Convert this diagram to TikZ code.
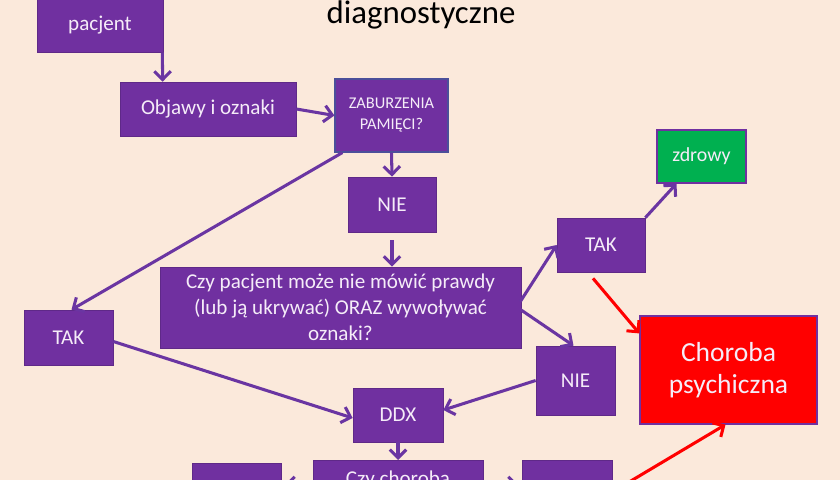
\documentclass[tikz,border=0pt]{standalone}
\usepackage{fontspec}
\setmainfont{Carlito}
\usetikzlibrary{arrows.meta,calc}
\definecolor{bg}{HTML}{FBE9DB}
\definecolor{purp}{HTML}{7030A0}
\definecolor{arrc}{HTML}{6A35A2}
\definecolor{grn}{HTML}{00B050}
\definecolor{txt}{HTML}{F5ECF8}
\definecolor{zabb}{HTML}{4B4F9A}
\begin{document}
\begin{tikzpicture}[x=0.03cm,y=-0.03cm,
  box/.style={fill=purp, draw=purp!85!black, line width=0.6pt, text=txt,
    font=\fontsize{18}{22}\selectfont, align=center, inner sep=0pt},
  parr/.style={draw=arrc, line width=2.6pt, -{Straight Barb[length=7pt,width=14pt]}},
  rarr/.style={draw=red, line width=2.6pt, -{Straight Barb[length=7pt,width=14pt]}}]
\useasboundingbox (0,0) rectangle (840,480);
\fill[bg] (0,0) rectangle (840,480);
\begin{scope}
\clip (0,0) rectangle (840,480);
\node[anchor=base, font=\fontsize{28}{32}\selectfont] (title) at (421,24) {diagnostyczne};
\node[box, minimum width=3.78cm, minimum height=1.62cm] (pacjent) at (100,25) {pacjent};
\node[box, minimum width=5.28cm, minimum height=1.62cm] (objawy) at (208,109) {Objawy i oznaki};
\node[box, draw=zabb, line width=1pt, minimum width=3.39cm, minimum height=2.19cm,
  font=\fontsize{14}{18}\selectfont] (zab) at (391.5,115.5) {ZABURZENIA\\PAMIĘCI?};
\node[box, minimum width=2.64cm, minimum height=1.65cm] (nie1) at (392,204.5) {NIE};
\node[box, minimum width=10.83cm, minimum height=2.43cm] (czy) at (340.5,307.5)
  {Czy pacjent może nie mówić prawdy\\(lub ją ukrywać) ORAZ wywoływać\\oznaki?};
\node[box, minimum width=2.67cm, minimum height=1.65cm] (takl) at (68.5,337.5) {TAK};
\node[box, minimum width=2.64cm, minimum height=1.62cm] (takr) at (601,245) {TAK};
\node[box, fill=grn, draw=purp, line width=1pt, minimum width=2.67cm, minimum height=1.59cm,
  font=\fontsize{17}{20}\selectfont] (zdrowy) at (701.5,156.5) {zdrowy};
\node[box, minimum width=2.37cm, minimum height=2.07cm] (nie2) at (575.5,380.5) {NIE};
\node[box, fill=red, draw=purp, line width=1pt, minimum width=5.31cm, minimum height=3.24cm,
  font=\fontsize{23.5}{27}\selectfont] (chor) at (728.5,370) {Choroba\\psychiczna};
\node[box, minimum width=2.7cm, minimum height=1.62cm] (ddx) at (398,415) {DDX};
\node[box, anchor=north, minimum width=5.1cm, minimum height=2.1cm, inner ysep=7pt,
  text depth=30pt] (czych) at (398,460) {Czy choroba};
\node[box, anchor=north, minimum width=2.67cm, minimum height=2cm] (leftb) at (236.5,463) {};
\node[box, anchor=north, minimum width=2.7cm, minimum height=2cm] (rightb) at (567,460) {};

\draw[parr] ($(pacjent.south east)+(-1,0)$) -- ($(objawy.north west)+(43,0)$);
\draw[parr] (objawy.east) -- (zab.west);
\draw[parr] (zab.south) -- (nie1.north);
\draw[parr] ($(zab.south west)+(8,0)$) -- ($(takl.north)+(3,0)$);
\draw[parr] ($(nie1.south)+(0,8)$) -- (nie1.south |- czy.north);
\draw[parr] ($(czy.east)+(-1,-6)$) -- (takr.west);
\draw[parr] ($(czy.east)+(-1,2)$) -- ($(nie2.north)+(-2,0)$);
\draw[parr] (takr.north east) -- ($(zdrowy.south)+(-25,0)$);
\draw[rarr] ($(takr.south)+(-8,6)$) -- ($(chor.north west)+(0,18)$);
\draw[parr] (nie2.west) -- ($(ddx.east)+(0,-5)$);
\draw[parr] ($(takl.east)+(0,4)$) -- ($(ddx.west)+(0,3)$);
\draw[parr] (ddx.south) -- (czych.north);
\draw[parr] ($(czych.north west)+(0,25)$) -- ($(leftb.north east)+(3,22)$);
\draw[parr] ($(czych.north east)+(0,25)$) -- ($(rightb.north west)+(-3,25)$);
\draw[rarr] ($(rightb.north east)+(0,32)$) -- ($(chor.south)+(-3,0)$);
\end{scope}
\end{tikzpicture}
\end{document}
